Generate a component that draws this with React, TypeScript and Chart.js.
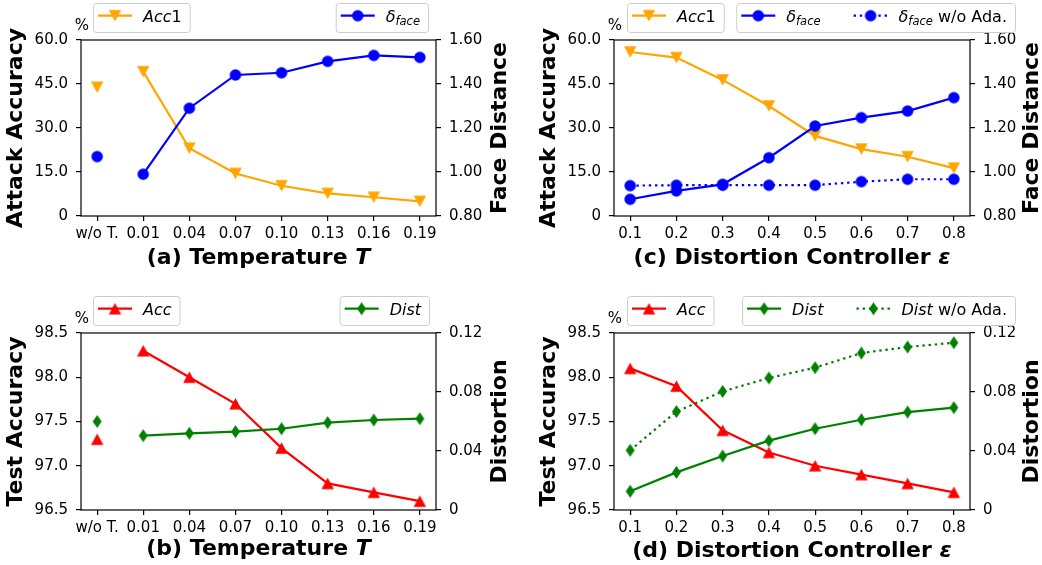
import React, { useEffect, useRef } from 'react';
import { Chart, registerables } from 'chart.js';

Chart.register(...registerables);

const FONT = '"DejaVu Sans"';

// ---------- tick labels ----------
const tempLabels = ['w/o T.', '0.01', '0.04', '0.07', '0.10', '0.13', '0.16', '0.19'];
const epsLabels = ['0.1', '0.2', '0.3', '0.4', '0.5', '0.6', '0.7', '0.8'];
const attackTicks = [0, 15, 30, 45, 60];
const faceTicks = [0.8, 1.0, 1.2, 1.4, 1.6];
const testAccTicks = [96.5, 97.0, 97.5, 98.0, 98.5];
const distTicks = [0, 0.04, 0.08, 0.12];

// ---------- (a) Temperature: attack accuracy / face distance ----------
const acc1WoT = 43.9;
const acc1Temp = [49.2, 23.1, 14.5, 10.3, 7.7, 6.4, 5.0];
const faceWoT = 1.07;
const faceTemp = [0.99, 1.29, 1.441, 1.451, 1.503, 1.53, 1.521];

// ---------- (c) Distortion controller: attack accuracy / face distance ----------
const acc1Eps = [55.9, 54.0, 46.4, 37.5, 27.3, 22.8, 20.2, 16.3];
const faceEps = [0.876, 0.914, 0.944, 1.065, 1.209, 1.247, 1.277, 1.338];
const faceEpsNoAda = [0.938, 0.94, 0.94, 0.94, 0.94, 0.956, 0.967, 0.967];

// ---------- (b) Temperature: test accuracy / distortion ----------
const accWoT = 97.3;
const accTemp = [98.3, 98.0, 97.7, 97.2, 96.8, 96.7, 96.6];
const distWoT = 0.06;
const distTemp = [0.0504, 0.052, 0.0531, 0.0551, 0.0592, 0.061, 0.0619];

// ---------- (d) Distortion controller: test accuracy / distortion ----------
const accEps = [98.1, 97.9, 97.4, 97.15, 97.0, 96.9, 96.8, 96.7];
const distEps = [0.0127, 0.0255, 0.0366, 0.047, 0.0551, 0.0612, 0.0664, 0.0694];
const distEpsNoAda = [0.0405, 0.0667, 0.0804, 0.0895, 0.0965, 0.1064, 0.1105, 0.1134];

const ORANGE = '#FFA500';
const BLUE = '#0000FF';
const RED = '#FF0000';
const GREEN = '#008000';

type Seg = { t: string; f: 'r' | 'i' | 'b' | 'bi'; sub?: boolean };

function makeMarker(shape: string, color: string, w: number, h: number): HTMLCanvasElement {
  const pad = 2;
  const c = document.createElement('canvas');
  c.width = Math.ceil(w + 2 * pad);
  c.height = Math.ceil(h + 2 * pad);
  const g = c.getContext('2d')!;
  const cx = c.width / 2;
  const cy = c.height / 2;
  g.fillStyle = color;
  g.beginPath();
  if (shape === 'circle') {
    g.arc(cx, cy, w / 2, 0, Math.PI * 2);
  } else if (shape === 'tdown') {
    g.moveTo(cx - w / 2, cy - h / 2);
    g.lineTo(cx + w / 2, cy - h / 2);
    g.lineTo(cx, cy + h / 2);
    g.closePath();
  } else if (shape === 'tup') {
    g.moveTo(cx - w / 2, cy + h / 2);
    g.lineTo(cx + w / 2, cy + h / 2);
    g.lineTo(cx, cy - h / 2);
    g.closePath();
  } else {
    g.moveTo(cx, cy - h / 2);
    g.lineTo(cx + w / 2, cy);
    g.lineTo(cx, cy + h / 2);
    g.lineTo(cx - w / 2, cy);
    g.closePath();
  }
  g.fill();
  return c;
}

const DOT: number[] = [2.4, 3.8];

function series(label: string, values: number[], start: number, color: string, marker: HTMLCanvasElement, axis: string, dotted = false, order = 1) {
  return {
    label,
    data: values.map((v, i) => ({ x: i + start, y: v })),
    borderColor: color,
    backgroundColor: color,
    borderWidth: 2.2,
    borderDash: dotted ? DOT : [],
    pointStyle: marker,
    pointRadius: 6,
    pointHoverRadius: 6,
    showLine: true,
    tension: 0,
    yAxisID: axis,
    order,
  };
}

function single(label: string, value: number, color: string, marker: HTMLCanvasElement, axis: string, order = 1) {
  return {
    label,
    data: [{ x: 0, y: value }],
    borderColor: color,
    backgroundColor: color,
    pointStyle: marker,
    pointRadius: 6,
    pointHoverRadius: 6,
    showLine: false,
    yAxisID: axis,
    order,
  };
}

type LegendEntry = { color: string; marker: HTMLCanvasElement; dotted?: boolean; segs: Seg[] };
type LegendSpec = { entries: LegendEntry[]; x: number; align: 'left' | 'right' };

type PanelSpec = {
  left: number; top: number; w: number; h: number;
  padTop: number; leftW: number; rightW: number; xH: number;
  xLabels: string[];
  yL: { min: number; max: number; ticks: number[]; fmt: (v: number) => string };
  yR: { min: number; max: number; ticks: number[]; fmt: (v: number) => string };
  datasets: any[];
  yLTitle: string; yRTitle: string; yRDx: number;
  xTitle: Seg[]; xTitleDy: number;
  legends: LegendSpec[];
};

function fontOf(f: string, size: number) {
  const style = f === 'i' || f === 'bi' ? 'italic ' : '';
  const weight = f === 'b' || f === 'bi' ? 'bold ' : '';
  return `${style}${weight}${size}px ${FONT}`;
}

const LEG_SIZE = 16;
const SUB_SIZE = 11.5;

function segWidth(ctx: CanvasRenderingContext2D, segs: Seg[], size: number) {
  let w = 0;
  for (const s of segs) {
    ctx.font = fontOf(s.f, s.sub ? SUB_SIZE : size);
    w += ctx.measureText(s.t).width;
  }
  return w;
}

function drawSegs(ctx: CanvasRenderingContext2D, segs: Seg[], x: number, y: number, size: number) {
  let cx = x;
  for (const s of segs) {
    ctx.font = fontOf(s.f, s.sub ? SUB_SIZE : size);
    ctx.fillText(s.t, cx, y + (s.sub ? 3 : 0));
    cx += ctx.measureText(s.t).width;
  }
}

function makeDeco(spec: PanelSpec) {
  return {
    id: 'deco',
    afterDraw(chart: any) {
      const ctx: CanvasRenderingContext2D = chart.ctx;
      const a = chart.chartArea;
      ctx.save();
      // frame
      ctx.strokeStyle = '#000';
      ctx.lineWidth = 1.2;
      ctx.strokeRect(a.left, a.top, a.right - a.left, a.bottom - a.top);
      // percent sign
      ctx.fillStyle = '#000';
      ctx.font = `15px ${FONT}`;
      ctx.textAlign = 'center';
      ctx.textBaseline = 'middle';
      ctx.fillText('%', a.left + 1, a.top - 14);
      // y titles
      const midY = (a.top + a.bottom) / 2;
      ctx.font = `bold 22px ${FONT}`;
      ctx.save();
      ctx.translate(a.left - 65, midY);
      ctx.rotate(-Math.PI / 2);
      ctx.fillText(spec.yLTitle, 0, 0);
      ctx.restore();
      ctx.save();
      ctx.translate(a.right + spec.yRDx, midY);
      ctx.rotate(-Math.PI / 2);
      ctx.fillText(spec.yRTitle, 0, 0);
      ctx.restore();
      // x title
      ctx.textAlign = 'left';
      ctx.textBaseline = 'middle';
      const tw = segWidth(ctx, spec.xTitle, 22);
      drawSegs(ctx, spec.xTitle, (a.left + a.right) / 2 - tw / 2, a.bottom + spec.xTitleDy, 22);
      // legends
      for (const lg of spec.legends) {
        const PADL = 5, HANDLE = 34, GAP = 11, SPACING = 33, PADR = 8, BH = 29;
        ctx.textBaseline = 'alphabetic';
        const widths = lg.entries.map((e) => segWidth(ctx, e.segs, LEG_SIZE));
        let total = PADL + PADR + SPACING * (lg.entries.length - 1);
        widths.forEach((w) => (total += HANDLE + GAP + w));
        const bx = lg.align === 'left' ? lg.x : lg.x - total;
        const by = a.top - 37;
        ctx.beginPath();
        ctx.roundRect(bx + 0.5, by + 0.5, total, BH, 3);
        ctx.fillStyle = 'rgba(255,255,255,0.8)';
        ctx.fill();
        ctx.strokeStyle = '#cccccc';
        ctx.lineWidth = 1;
        ctx.stroke();
        let x = bx + PADL;
        const hy = by + 12.7;
        lg.entries.forEach((e, i) => {
          ctx.beginPath();
          ctx.strokeStyle = e.color;
          ctx.lineWidth = 2.2;
          ctx.setLineDash(e.dotted ? DOT : []);
          ctx.moveTo(x, hy);
          ctx.lineTo(x + HANDLE, hy);
          ctx.stroke();
          ctx.setLineDash([]);
          const m = e.marker;
          ctx.drawImage(m, x + HANDLE / 2 - m.width / 2, hy - m.height / 2);
          ctx.fillStyle = '#000';
          drawSegs(ctx, e.segs, x + HANDLE + GAP, by + 18.6, LEG_SIZE);
          x += HANDLE + GAP + widths[i] + SPACING;
        });
      }
      ctx.restore();
    },
  };
}

function buildConfig(spec: PanelSpec): any {
  const tickFont = { family: FONT, size: 15 };
  const grid = { display: true, drawOnChartArea: false, drawTicks: true, tickLength: 5, color: '#000', lineWidth: 1.2 };
  const n = spec.xLabels.length;
  return {
    type: 'line',
    data: { datasets: spec.datasets },
    plugins: [makeDeco(spec)],
    options: {
      responsive: false,
      animation: false,
      devicePixelRatio: 1,
      layout: { padding: { top: spec.padTop, left: 0, right: 0, bottom: 0 } },
      plugins: { legend: { display: false }, tooltip: { enabled: false } },
      scales: {
        x: {
          type: 'linear',
          position: 'bottom',
          min: -0.35,
          max: n - 1 + 0.35,
          grid,
          border: { display: false },
          afterBuildTicks: (s: any) => { s.ticks = spec.xLabels.map((_, i) => ({ value: i })); },
          afterFit: (s: any) => { s.height = spec.xH; },
          ticks: {
            autoSkip: false, maxRotation: 0, minRotation: 0, padding: 4, color: '#000', font: tickFont,
            callback: (v: number) => spec.xLabels[Math.round(v)] ?? '',
          },
        },
        y: {
          type: 'linear',
          position: 'left',
          min: spec.yL.min,
          max: spec.yL.max,
          grid,
          border: { display: false },
          afterBuildTicks: (s: any) => { s.ticks = spec.yL.ticks.map((v) => ({ value: v })); },
          afterFit: (s: any) => { s.width = spec.leftW; },
          ticks: { padding: 8, color: '#000', font: tickFont, callback: (v: number) => spec.yL.fmt(v) },
        },
        y1: {
          type: 'linear',
          position: 'right',
          min: spec.yR.min,
          max: spec.yR.max,
          grid,
          border: { display: false },
          afterBuildTicks: (s: any) => { s.ticks = spec.yR.ticks.map((v) => ({ value: v })); },
          afterFit: (s: any) => { s.width = spec.rightW; },
          ticks: { padding: 8, color: '#000', font: tickFont, callback: (v: number) => spec.yR.fmt(v) },
        },
      },
    },
  };
}

function makeSpecs(): PanelSpec[] {
  const mTriDownO = makeMarker('tdown', ORANGE, 12.5, 11.5);
  const mCircB = makeMarker('circle', BLUE, 11.5, 11.5);
  const mTriUpR = makeMarker('tup', RED, 12.5, 11.5);
  const mDiaG = makeMarker('diamond', GREEN, 9, 13);

  const attackAxis = { min: 0, max: 60, ticks: attackTicks, fmt: (v: number) => (v === 0 ? '0' : v.toFixed(1)) };
  const faceAxis = { min: 0.8, max: 1.6, ticks: faceTicks, fmt: (v: number) => v.toFixed(2) };
  const testAxis = { min: 96.5, max: 98.5, ticks: testAccTicks, fmt: (v: number) => v.toFixed(1) };
  const distAxis = { min: 0, max: 0.12, ticks: distTicks, fmt: (v: number) => (v === 0 ? '0' : v.toFixed(2)) };

  const acc1Leg: LegendEntry = { color: ORANGE, marker: mTriDownO, segs: [{ t: 'Acc', f: 'i' }, { t: '1', f: 'r' }] };
  const faceLeg: LegendEntry = { color: BLUE, marker: mCircB, segs: [{ t: 'δ', f: 'i' }, { t: 'face', f: 'i', sub: true }] };
  const faceNoAdaLeg: LegendEntry = { color: BLUE, marker: mCircB, dotted: true, segs: [{ t: 'δ', f: 'i' }, { t: 'face', f: 'i', sub: true }, { t: ' w/o Ada.', f: 'r' }] };
  const accLeg: LegendEntry = { color: RED, marker: mTriUpR, segs: [{ t: 'Acc', f: 'i' }] };
  const distLeg: LegendEntry = { color: GREEN, marker: mDiaG, segs: [{ t: 'Dist', f: 'i' }] };
  const distNoAdaLeg: LegendEntry = { color: GREEN, marker: mDiaG, dotted: true, segs: [{ t: 'Dist', f: 'i' }, { t: ' w/o Ada.', f: 'r' }] };

  const a: PanelSpec = {
    left: 0, top: 0, w: 521, h: 283, padTop: 40, leftW: 81, rightW: 85, xH: 67,
    xLabels: tempLabels, yL: attackAxis, yR: faceAxis,
    datasets: [
      single('Acc1 w/o T', acc1WoT, ORANGE, mTriDownO, 'y', 2),
      series('Acc1', acc1Temp, 1, ORANGE, mTriDownO, 'y', false, 2),
      single('face w/o T', faceWoT, BLUE, mCircB, 'y1', 1),
      series('face', faceTemp, 1, BLUE, mCircB, 'y1', false, 1),
    ],
    yLTitle: 'Attack Accuracy', yRTitle: 'Face Distance', yRDx: 64,
    xTitle: [{ t: '(a) Temperature ', f: 'b' }, { t: 'T', f: 'bi' }], xTitleDy: 42,
    legends: [{ entries: [acc1Leg], x: 93, align: 'left' }, { entries: [faceLeg], x: 428, align: 'right' }],
  };
  const c: PanelSpec = {
    left: 521, top: 0, w: 521, h: 283, padTop: 40, leftW: 93, rightW: 72, xH: 67,
    xLabels: epsLabels, yL: attackAxis, yR: faceAxis,
    datasets: [
      series('Acc1', acc1Eps, 0, ORANGE, mTriDownO, 'y', false, 3),
      series('face', faceEps, 0, BLUE, mCircB, 'y1', false, 1),
      series('face w/o Ada.', faceEpsNoAda, 0, BLUE, mCircB, 'y1', true, 2),
    ],
    yLTitle: 'Attack Accuracy', yRTitle: 'Face Distance', yRDx: 62,
    xTitle: [{ t: '(c) Distortion Controller ', f: 'b' }, { t: 'ε', f: 'bi' }], xTitleDy: 42,
    legends: [{ entries: [acc1Leg], x: 106, align: 'left' }, { entries: [faceLeg, faceNoAdaLeg], x: 494, align: 'right' }],
  };
  const b: PanelSpec = {
    left: 0, top: 283, w: 521, h: 282, padTop: 50, leftW: 81, rightW: 85, xH: 55,
    xLabels: tempLabels, yL: testAxis, yR: distAxis,
    datasets: [
      single('Acc w/o T', accWoT, RED, mTriUpR, 'y', 2),
      series('Acc', accTemp, 1, RED, mTriUpR, 'y', false, 2),
      single('Dist w/o T', distWoT, GREEN, mDiaG, 'y1', 1),
      series('Dist', distTemp, 1, GREEN, mDiaG, 'y1', false, 1),
    ],
    yLTitle: 'Test Accuracy', yRTitle: 'Distortion', yRDx: 64,
    xTitle: [{ t: '(b) Temperature ', f: 'b' }, { t: 'T', f: 'bi' }], xTitleDy: 39,
    legends: [{ entries: [accLeg], x: 93, align: 'left' }, { entries: [distLeg], x: 429, align: 'right' }],
  };
  const d: PanelSpec = {
    left: 521, top: 283, w: 521, h: 282, padTop: 50, leftW: 93, rightW: 72, xH: 55,
    xLabels: epsLabels, yL: testAxis, yR: distAxis,
    datasets: [
      series('Acc', accEps, 0, RED, mTriUpR, 'y', false, 3),
      series('Dist', distEps, 0, GREEN, mDiaG, 'y1', false, 1),
      series('Dist w/o Ada.', distEpsNoAda, 0, GREEN, mDiaG, 'y1', true, 2),
    ],
    yLTitle: 'Test Accuracy', yRTitle: 'Distortion', yRDx: 62,
    xTitle: [{ t: '(d) Distortion Controller ', f: 'b' }, { t: 'ε', f: 'bi' }], xTitleDy: 41,
    legends: [{ entries: [accLeg], x: 106, align: 'left' }, { entries: [distLeg, distNoAdaLeg], x: 494, align: 'right' }],
  };
  return [a, c, b, d];
}

function Panel({ spec }: { spec: PanelSpec }) {
  const ref = useRef<HTMLCanvasElement | null>(null);
  useEffect(() => {
    if (!ref.current) return;
    const chart = new Chart(ref.current, buildConfig(spec));
    return () => chart.destroy();
  }, [spec]);
  return (
    <canvas
      ref={ref}
      width={spec.w}
      height={spec.h}
      style={{ position: 'absolute', left: spec.left, top: spec.top, width: spec.w, height: spec.h }}
    />
  );
}

const SPECS = makeSpecs();

export default function App() {
  return (
    <div style={{ position: 'absolute', left: 0, top: 0, width: 1042, height: 565, background: '#fff', overflow: 'hidden' }}>
      {SPECS.map((s, i) => (
        <Panel key={i} spec={s} />
      ))}
    </div>
  );
}
